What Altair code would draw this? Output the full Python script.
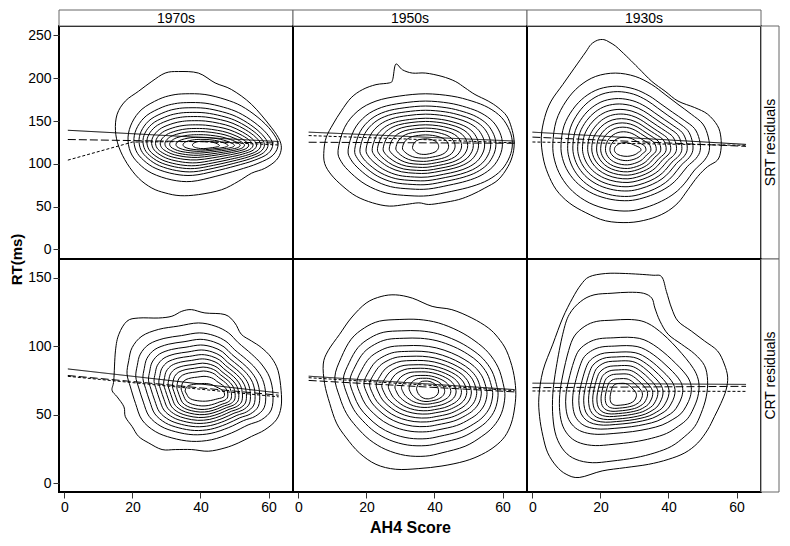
import altair as alt
import pandas as pd

W = 234
H = 233
STRIP = 16
RSTRIP = 18
FONT = "Liberation Sans"

X_DOMAIN = [-1.6, 67.2]
X_TICKS = [0, 20, 40, 60]
Y_DOMAIN_TOP = [-11.2, 261.0]
Y_DOMAIN_BOT = [-6.5, 163.7]
Y_TICKS_TOP = [0, 50, 100, 150, 200, 250]
Y_TICKS_BOT = [0, 50, 100, 150]

COLUMNS = ["1970s", "1950s", "1930s"]
ROWS = ["SRT residuals", "CRT residuals"]

KINDS = ["solid", "long", "short"]
DASHES = [[1, 0], [8, 3], [3, 2]]

# ---------------- SRT, 1970s ----------------
TL_OUTER_X = [33.5, 39.4, 44.3, 49.1, 55.0, 60.8, 63.3, 63.7, 62.3, 58.9, 55.0, 51.1, 46.2, 39.4, 34.0, 29.6, 25.7, 21.8, 18.4, 16.0, 15.0, 15.5, 17.9, 21.8, 25.7, 29.6]
TL_OUTER_Y = [207.8, 206.0, 194.5, 186.8, 169.5, 142.7, 127.3, 115.8, 104.3, 94.7, 89.0, 79.4, 69.7, 64.0, 62.8, 66.0, 71.7, 83.2, 100.5, 119.7, 138.8, 158.0, 173.3, 184.8, 196.3, 206.0]
TL_BASE_X = [35.5, 41.3, 47.2, 52.0, 56.9, 60.8, 62.8, 61.3, 56.9, 51.1, 44.3, 37.4, 31.6, 25.7, 21.8, 19.4, 18.7, 19.9, 22.8, 27.7, 31.6]
TL_BASE_Y = [181.8, 181.0, 175.3, 167.6, 154.2, 138.8, 123.5, 110.0, 100.5, 92.8, 85.2, 79.4, 81.2, 89.0, 100.5, 113.9, 131.2, 148.4, 163.8, 175.3, 180.2]
TL_CENTER = [41.8, 121.3]
TL_SX = [0.925, 0.86, 0.81, 0.76, 0.70, 0.65, 0.59, 0.53, 0.47, 0.39, 0.30, 0.18]
TL_SY = [0.83, 0.73, 0.64, 0.56, 0.48, 0.40, 0.33, 0.27, 0.21, 0.16, 0.12, 0.085]

# ---------------- SRT, 1950s ----------------
TM_OUTER_X = [28.6, 30.6, 33.5, 37.4, 42.2, 46.1, 49.0, 51.9, 55.8, 58.7, 61.2, 62.6, 63.4, 63.1, 61.6, 58.7, 54.8, 51.0, 47.1, 42.2, 38.3, 35.4, 31.5, 26.7, 21.8, 17.0, 13.1, 9.7, 7.7, 7.5, 8.2, 10.2, 12.6, 15.5, 18.9, 22.8, 26.7, 27.7]
TM_OUTER_Y = [216.3, 209.8, 206.0, 206.0, 202.1, 196.3, 188.7, 181.0, 173.3, 165.7, 156.0, 142.7, 127.3, 112.0, 96.7, 81.2, 71.7, 64.0, 58.2, 54.4, 52.5, 54.4, 52.5, 50.6, 54.4, 62.1, 73.6, 87.0, 100.5, 115.8, 131.2, 146.5, 161.8, 177.2, 186.8, 192.5, 194.5, 198.3]
TM_BASE_X = [11.65, 13.6, 17.5, 22.8, 29.6, 37.4, 45.1, 51.0, 55.8, 59.7, 62.1, 62.9, 62.1, 59.7, 55.8, 51.0, 45.1, 38.3, 32.5, 25.7, 19.9, 15.5, 12.6]
TM_BASE_Y = [115.8, 142.7, 161.8, 173.3, 179.1, 181.8, 179.1, 173.3, 165.7, 154.2, 138.8, 123.5, 108.2, 92.8, 81.2, 73.6, 67.9, 62.8, 62.8, 66.0, 75.5, 89.0, 102.4]
TM_CENTER = [37.4, 119.7]
TM_SX = [0.885, 0.81, 0.75, 0.68, 0.61, 0.55, 0.485, 0.415, 0.34, 0.265, 0.15]
TM_SY = [0.863, 0.77, 0.69, 0.617, 0.54, 0.48, 0.417, 0.355, 0.294, 0.227, 0.153]

# ---------------- SRT, 1930s ----------------
TR_OUTER_X = [17.2, 19.1, 21.0, 22.5, 24.4, 26.3, 28.3, 31.2, 35.1, 39.0, 42.8, 47.7, 51.5, 54.4, 55.4, 55.4, 54.4, 51.5, 48.6, 45.7, 42.8, 39.0, 34.1, 28.3, 21.5, 15.7, 10.8, 7.0, 4.5, 3.1, 2.6, 3.6, 5.5, 8.9, 12.3, 15.7]
TR_OUTER_Y = [239.4, 244.3, 245.1, 242.4, 237.7, 230.8, 223.2, 211.7, 196.3, 184.8, 173.3, 165.7, 158.0, 144.6, 131.2, 115.8, 104.3, 96.7, 85.2, 69.7, 54.4, 42.9, 35.2, 31.4, 33.4, 42.9, 54.4, 69.7, 89.0, 108.2, 131.2, 154.2, 173.3, 192.5, 211.7, 230.8]
TR_BASE_X = [6.0, 7.0, 9.9, 13.75, 18.6, 24.4, 30.2, 35.1, 39.0, 42.8, 46.7, 50.1, 51.7, 52.0, 50.6, 47.7, 44.8, 41.9, 38.0, 33.1, 28.3, 22.5, 16.7, 11.8, 8.4, 6.5]
TR_BASE_Y = [123.5, 150.3, 173.3, 190.6, 202.1, 206.0, 202.1, 192.5, 181.0, 169.5, 158.0, 146.5, 131.2, 115.8, 104.3, 92.8, 77.4, 66.0, 56.4, 48.7, 44.9, 46.7, 54.4, 67.9, 85.2, 104.3]
TR_CENTER = [27.8, 115.8]
TR_SX = [0.89, 0.80, 0.73, 0.665, 0.60, 0.53, 0.475, 0.41, 0.355, 0.29, 0.23, 0.17]
TR_SY = [0.83, 0.76, 0.67, 0.60, 0.53, 0.47, 0.41, 0.355, 0.30, 0.24, 0.17, 0.10]

# ---------------- CRT, 1970s ----------------
BL_OUTER_X = [16.0, 18.4, 21.8, 27.7, 31.6, 34.5, 37.4, 41.3, 47.2, 50.1, 52.0, 55.0, 57.9, 60.8, 62.8, 63.7, 63.7, 62.3, 58.9, 55.0, 51.1, 47.2, 42.3, 37.4, 32.6, 28.7, 24.8, 21.8, 19.9, 17.9, 17.5, 15.5, 14.0, 14.5, 15.0]
BL_OUTER_Y = [108.7, 118.3, 120.6, 120.6, 121.9, 125.5, 126.7, 124.3, 123.1, 117.0, 108.7, 103.8, 99.0, 91.8, 82.2, 67.8, 55.7, 46.2, 38.9, 34.1, 29.3, 25.7, 23.3, 24.5, 24.5, 24.5, 29.3, 34.1, 41.3, 48.5, 55.7, 63.0, 67.8, 75.0, 96.6]
BL_BASE_X = [18.9, 19.9, 22.8, 27.7, 33.5, 39.4, 44.3, 48.2, 51.1, 55.0, 57.9, 60.3, 61.3, 60.8, 57.9, 54.0, 49.1, 43.3, 37.4, 31.6, 26.7, 22.8, 20.9, 19.4, 18.4]
BL_BASE_Y = [89.4, 99.0, 107.4, 112.3, 114.7, 117.0, 114.7, 109.8, 102.6, 94.3, 87.0, 77.4, 65.4, 53.4, 46.2, 42.5, 36.6, 31.7, 30.5, 33.0, 37.7, 46.2, 58.2, 70.2, 79.8]
BL_CENTER = [41.8, 65.0]
BL_SX = [0.89, 0.80, 0.73, 0.66, 0.60, 0.54, 0.485, 0.43, 0.375, 0.32, 0.27]
BL_SY = [0.86, 0.77, 0.69, 0.62, 0.555, 0.495, 0.435, 0.38, 0.325, 0.25, 0.15]

# ---------------- CRT, 1950s ----------------
BM_OUTER_X = [28.6, 33.5, 39.3, 45.1, 51.0, 55.8, 58.7, 61.2, 63.1, 63.9, 63.6, 62.6, 60.7, 57.8, 53.9, 49.0, 42.2, 35.4, 28.6, 22.8, 17.9, 14.1, 11.2, 9.2, 7.7, 7.3, 8.7, 12.1, 15.5, 19.9, 24.3]
BM_OUTER_Y = [137.5, 135.1, 129.1, 126.7, 120.6, 113.4, 106.2, 96.6, 82.2, 67.8, 55.7, 43.8, 34.1, 26.9, 20.9, 16.1, 12.5, 10.6, 10.1, 13.7, 22.1, 33.0, 43.8, 58.2, 72.6, 87.0, 96.6, 108.7, 120.6, 131.5, 136.3]
BM_BASE_X = [10.7, 12.6, 15.5, 19.4, 23.8, 29.6, 35.4, 41.2, 47.1, 51.9, 55.8, 58.7, 60.2, 60.7, 59.7, 57.3, 53.9, 49.0, 42.2, 37.4, 31.5, 25.7, 20.9, 17.0, 14.1, 12.1]
BM_BASE_Y = [77.4, 91.8, 105.1, 113.4, 118.3, 119.5, 119.5, 117.0, 111.1, 103.8, 95.4, 84.6, 72.6, 63.0, 51.0, 41.3, 34.1, 26.9, 22.1, 19.7, 20.2, 24.5, 31.7, 41.3, 51.0, 63.0]
BM_CENTER = [38.3, 67.8]
BM_SX = [0.91, 0.84, 0.765, 0.69, 0.63, 0.56, 0.50, 0.43, 0.36, 0.29, 0.21, 0.13]
BM_SY = [0.84, 0.735, 0.63, 0.55, 0.48, 0.42, 0.36, 0.31, 0.26, 0.21, 0.17, 0.13]

# ---------------- CRT, 1930s ----------------
BR_OUTER_X = [16.7, 21.5, 27.3, 35.1, 38.0, 39.4, 40.9, 42.8, 46.7, 50.6, 54.4, 56.4, 57.4, 56.9, 55.4, 53.5, 51.5, 48.6, 44.8, 39.9, 34.1, 27.3, 20.5, 13.75, 9.9, 7.0, 4.5, 3.1, 2.1, 1.9, 3.1, 6.0, 8.9, 11.8, 14.2]
BR_OUTER_Y = [150.7, 153.1, 153.1, 151.9, 150.7, 139.9, 127.9, 118.3, 111.1, 103.8, 96.6, 87.0, 77.4, 67.8, 58.2, 48.5, 38.9, 29.3, 22.1, 17.3, 13.7, 11.3, 8.9, 4.1, 6.5, 12.5, 22.1, 34.1, 48.5, 63.0, 82.2, 101.5, 120.6, 135.1, 144.7]
BR_BASE_X = [8.9, 10.8, 14.2, 18.1, 23.4, 28.3, 32.6, 35.1, 36.0, 37.5, 39.9, 43.8, 47.7, 50.6, 51.5, 51.1, 49.6, 47.7, 44.8, 40.9, 36.0, 30.2, 23.4, 17.6, 12.8, 9.4, 7.0, 6.0, 6.0, 7.0]
BR_BASE_Y = [108.7, 123.1, 132.7, 137.5, 138.7, 139.4, 138.7, 135.1, 127.9, 118.3, 108.7, 101.5, 94.3, 85.8, 75.0, 63.0, 51.0, 41.3, 34.1, 26.9, 22.1, 18.5, 16.1, 14.9, 17.3, 23.3, 34.1, 48.5, 65.4, 84.6]
BR_INNER_X = [8.9, 10.8, 14.2, 18.1, 23.4, 28.3, 32.6, 36.0, 39.5, 42.8, 45.8, 48.5, 50.6, 51.5, 51.1, 49.6, 47.7, 44.8, 40.9, 36.0, 30.2, 23.4, 17.6, 12.8, 9.4, 7.0, 6.0, 6.0, 7.0]
BR_INNER_Y = [108.7, 123.1, 132.7, 137.5, 138.7, 139.4, 138.0, 133.5, 125.5, 116.0, 106.0, 96.0, 85.8, 75.0, 63.0, 51.0, 41.3, 34.1, 26.9, 22.1, 18.5, 16.1, 14.9, 17.3, 23.3, 34.1, 48.5, 65.4, 84.6]
BR_CENTER = [26.3, 63.0]
BR_SX = [0.90, 0.81, 0.71, 0.62, 0.55, 0.48, 0.42, 0.36, 0.30, 0.24, 0.17]
BR_SY = [0.74, 0.57, 0.49, 0.43, 0.385, 0.345, 0.30, 0.26, 0.22, 0.175, 0.13]

# ---------------- fitted lines (solid / long dash / short dash) ----------------
TL_LINE_X = [1, 63]
TL_SOLID = [139.2, 126.0]
TL_LONG = [128.4, 124.3]
TL_SHORT_X = [1, 20, 40, 63]
TL_SHORT = [104.3, 125.4, 126.1, 122.0]

TM_LINE_X = [3, 63.6]
TM_SOLID = [137.0, 126.6]
TM_LONG = [125.2, 124.0]
TM_SHORT = [133.0, 124.5]

TR_LINE_X = [0, 62.8]
TR_SOLID = [137.0, 122.7]
TR_LONG = [131.2, 120.4]
TR_SHORT = [125.5, 121.6]

BL_LINE_X = [1, 63]
BL_SOLID = [83.4, 65.9]
BL_LONG = [78.6, 64.2]
BL_SHORT = [78.0, 63.0]

BM_LINE_X = [3, 63.6]
BM_SOLID = [78.1, 68.3]
BM_LONG = [75.0, 66.6]
BM_SHORT = [77.0, 67.5]

BR_LINE_X = [0, 62.8]
BR_SOLID = [73.0, 72.1]
BR_LONG = [69.7, 70.7]
BR_SHORT = [67.3, 67.0]


def contour_frame(ox, oy, bx, by, center, sx, sy, ix=None, iy=None):
    rows = []

    def add(k, xs, ys):
        for i, (x, y) in enumerate(zip(xs, ys)):
            rows.append({"k": k, "i": i, "x": x, "y": y})

    add(0, ox, oy)
    add(1, bx, by)
    if ix is None:
        ix, iy = bx, by
    cx, cy = center
    for j, (fx, fy) in enumerate(zip(sx, sy)):
        add(j + 2, [cx + fx * (x - cx) for x in ix], [cy + fy * (y - cy) for y in iy])
    return pd.DataFrame(rows)


def line_frame(specs):
    rows = []
    for kind, xs, ys in specs:
        for i, (x, y) in enumerate(zip(xs, ys)):
            rows.append({"kind": kind, "i": i, "x": x, "y": y})
    return pd.DataFrame(rows)


def panel(cdf, ldf, ydom, yaxis, xaxis, col_label=None, row_label=None):
    xscale = alt.Scale(domain=X_DOMAIN, nice=False, zero=False)
    yscale = alt.Scale(domain=ydom, nice=False, zero=False)
    contours = alt.Chart(cdf).mark_line(
        interpolate="cardinal-closed", color="black", strokeWidth=1, clip=True
    ).encode(
        x=alt.X("x:Q", scale=xscale, axis=xaxis),
        y=alt.Y("y:Q", scale=yscale, axis=yaxis),
        detail="k:N",
        order="i:Q",
    )
    lines = alt.Chart(ldf).mark_line(color="black", strokeWidth=1, clip=True).encode(
        x="x:Q",
        y="y:Q",
        detail="kind:N",
        order="i:Q",
        strokeDash=alt.StrokeDash(
            "kind:N", scale=alt.Scale(domain=KINDS, range=DASHES), legend=None
        ),
    )
    layers = [contours, lines]
    if col_label is not None:
        sdf = pd.DataFrame({"label": [col_label]})
        layers.append(
            alt.Chart(sdf).mark_rect(fill="white", stroke="#666", strokeWidth=1).encode(
                x=alt.value(0), x2=alt.value(W), y=alt.value(-STRIP), y2=alt.value(0)
            )
        )
        layers.append(
            alt.Chart(sdf).mark_text(
                font=FONT, fontSize=14, color="black", align="center", baseline="middle"
            ).encode(x=alt.value(W / 2), y=alt.value(-STRIP / 2 + 0.5), text="label:N")
        )
    if row_label is not None:
        rdf = pd.DataFrame({"label": [row_label]})
        layers.append(
            alt.Chart(rdf).mark_rect(fill="white", stroke="#666", strokeWidth=1).encode(
                x=alt.value(W), x2=alt.value(W + RSTRIP), y=alt.value(0), y2=alt.value(H)
            )
        )
        layers.append(
            alt.Chart(rdf).mark_text(
                font=FONT, fontSize=14, color="black", align="center", baseline="middle", angle=270
            ).encode(x=alt.value(W + RSTRIP / 2 + 0.5), y=alt.value(H / 2), text="label:N")
        )
    return alt.layer(*layers).properties(width=W, height=H)


def yax(values, title=False):
    if title:
        return alt.Axis(
            values=values, title="RT(ms)", titleFontSize=15, titleFontWeight="bold",
            titleAngle=270, titleX=-35, titleY=H, titleAlign="center", titleBaseline="bottom",
            labelAngle=0,
        )
    return alt.Axis(values=values, title=None, labelAngle=0)


def xax(title=False):
    if title:
        return alt.Axis(
            values=X_TICKS, title="AH4 Score", titleFontSize=16, titleFontWeight="bold",
            titlePadding=5,
        )
    return alt.Axis(values=X_TICKS, title=None)


c_tl = contour_frame(TL_OUTER_X, TL_OUTER_Y, TL_BASE_X, TL_BASE_Y, TL_CENTER, TL_SX, TL_SY)
c_tm = contour_frame(TM_OUTER_X, TM_OUTER_Y, TM_BASE_X, TM_BASE_Y, TM_CENTER, TM_SX, TM_SY)
c_tr = contour_frame(TR_OUTER_X, TR_OUTER_Y, TR_BASE_X, TR_BASE_Y, TR_CENTER, TR_SX, TR_SY)
c_bl = contour_frame(BL_OUTER_X, BL_OUTER_Y, BL_BASE_X, BL_BASE_Y, BL_CENTER, BL_SX, BL_SY)
c_bm = contour_frame(BM_OUTER_X, BM_OUTER_Y, BM_BASE_X, BM_BASE_Y, BM_CENTER, BM_SX, BM_SY)
c_br = contour_frame(BR_OUTER_X, BR_OUTER_Y, BR_BASE_X, BR_BASE_Y, BR_CENTER, BR_SX, BR_SY,
                     BR_INNER_X, BR_INNER_Y)

l_tl = line_frame([("solid", TL_LINE_X, TL_SOLID), ("long", TL_LINE_X, TL_LONG), ("short", TL_SHORT_X, TL_SHORT)])
l_tm = line_frame([("solid", TM_LINE_X, TM_SOLID), ("long", TM_LINE_X, TM_LONG), ("short", TM_LINE_X, TM_SHORT)])
l_tr = line_frame([("solid", TR_LINE_X, TR_SOLID), ("long", TR_LINE_X, TR_LONG), ("short", TR_LINE_X, TR_SHORT)])
l_bl = line_frame([("solid", BL_LINE_X, BL_SOLID), ("long", BL_LINE_X, BL_LONG), ("short", BL_LINE_X, BL_SHORT)])
l_bm = line_frame([("solid", BM_LINE_X, BM_SOLID), ("long", BM_LINE_X, BM_LONG), ("short", BM_LINE_X, BM_SHORT)])
l_br = line_frame([("solid", BR_LINE_X, BR_SOLID), ("long", BR_LINE_X, BR_LONG), ("short", BR_LINE_X, BR_SHORT)])

p11 = panel(c_tl, l_tl, Y_DOMAIN_TOP, yax(Y_TICKS_TOP, title=True), None, col_label=COLUMNS[0])
p12 = panel(c_tm, l_tm, Y_DOMAIN_TOP, None, None, col_label=COLUMNS[1])
p13 = panel(c_tr, l_tr, Y_DOMAIN_TOP, None, None, col_label=COLUMNS[2], row_label=ROWS[0])
p21 = panel(c_bl, l_bl, Y_DOMAIN_BOT, yax(Y_TICKS_BOT), xax())
p22 = panel(c_bm, l_bm, Y_DOMAIN_BOT, None, xax(title=True))
p23 = panel(c_br, l_br, Y_DOMAIN_BOT, None, xax(), row_label=ROWS[1])

chart = (
    alt.concat(p11, p12, p13, p21, p22, p23, columns=3, spacing=0, bounds="flush")
    .resolve_scale(x="independent", y="independent")
    .properties(padding={"left": 0, "top": 0, "right": 0, "bottom": 0})
    .configure_view(stroke="black", strokeWidth=2)
    .configure_axis(
        labelFont=FONT, labelFontSize=14, labelColor="black", tickColor="#333",
        tickSize=6, labelPadding=2, domain=False, grid=False, titleFont=FONT,
        titleColor="black", labelFlush=False, labelOverlap=False,
    )
)

chart.save("out.html", embed_options={"renderer": "svg", "actions": False})
